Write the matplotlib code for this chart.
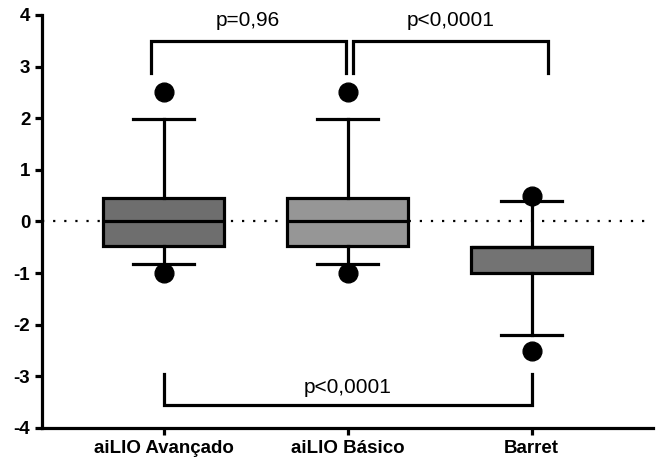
import matplotlib.pyplot as plt

plt.rcParams['font.family'] = ['Liberation Sans', 'DejaVu Sans']
plt.rcParams['axes.unicode_minus'] = False

groups = ['aiLIO Avançado', 'aiLIO Básico', 'Barret']
q1 = [-0.48, -0.48, -1.0]
median = [0.0, 0.0, -0.5]
q3 = [0.45, 0.45, -0.5]
whisker_low = [-0.83, -0.83, -2.2]
whisker_high = [1.98, 1.98, 0.4]
outliers = [[2.5, -1.0], [2.5, -1.0], [0.5, -2.5]]
fills = ['#6e6e6e', '#969696', '#737373']

p_labels = ['p=0,96', 'p<0,0001', 'p<0,0001']

fig = plt.figure(figsize=(6.59, 4.68), dpi=100)
ax = fig.add_axes([0.064, 0.0855, 0.927, 0.8825])

stats = []
for i, g in enumerate(groups):
    stats.append({'label': g, 'q1': q1[i], 'med': median[i], 'q3': q3[i],
                  'whislo': whisker_low[i], 'whishi': whisker_high[i],
                  'fliers': outliers[i]})

lw = 2.3
bp = ax.bxp(stats, positions=range(len(groups)), widths=0.66, patch_artist=True,
            boxprops=dict(linewidth=lw, edgecolor='black'),
            medianprops=dict(color='black', linewidth=lw),
            whiskerprops=dict(color='black', linewidth=lw),
            capprops=dict(color='black', linewidth=lw),
            flierprops=dict(marker='o', markerfacecolor='black', markeredgecolor='black',
                            markersize=13.5),
            capwidths=0.33)
for patch, c in zip(bp['boxes'], fills):
    patch.set_facecolor(c)

ax.axhline(0, color='black', linestyle=(0, (1, 4)), linewidth=1.6, zorder=0)

# significance brackets
def bracket(x1, x2, y, tip, text, ty):
    ax.plot([x1, x1, x2, x2], [tip, y, y, tip], color='black', linewidth=lw,
            solid_joinstyle='miter', clip_on=False)
    ax.text((x1 + x2) / 2, ty, text, ha='center', va='center', fontsize=15)

bracket(-0.07, 0.99, 3.5, 2.88, p_labels[0], 3.9)
bracket(1.03, 2.09, 3.5, 2.88, p_labels[1], 3.9)
bracket(0.0, 2.0, -3.56, -2.95, p_labels[2], -3.22)

ax.set_xlim(-0.66, 2.66)
ax.set_ylim(-4, 4)
ax.set_yticks(range(-4, 5))
ax.set_xticks(range(len(groups)))
ax.set_xticklabels(groups)
for lab in ax.get_xticklabels() + ax.get_yticklabels():
    lab.set_fontweight('bold')
    lab.set_fontsize(13.5)

for s in ['top', 'right']:
    ax.spines[s].set_visible(False)
for s in ['left', 'bottom']:
    ax.spines[s].set_linewidth(lw)
ax.tick_params(width=lw, length=5)

fig.savefig('out.png', dpi=100)
